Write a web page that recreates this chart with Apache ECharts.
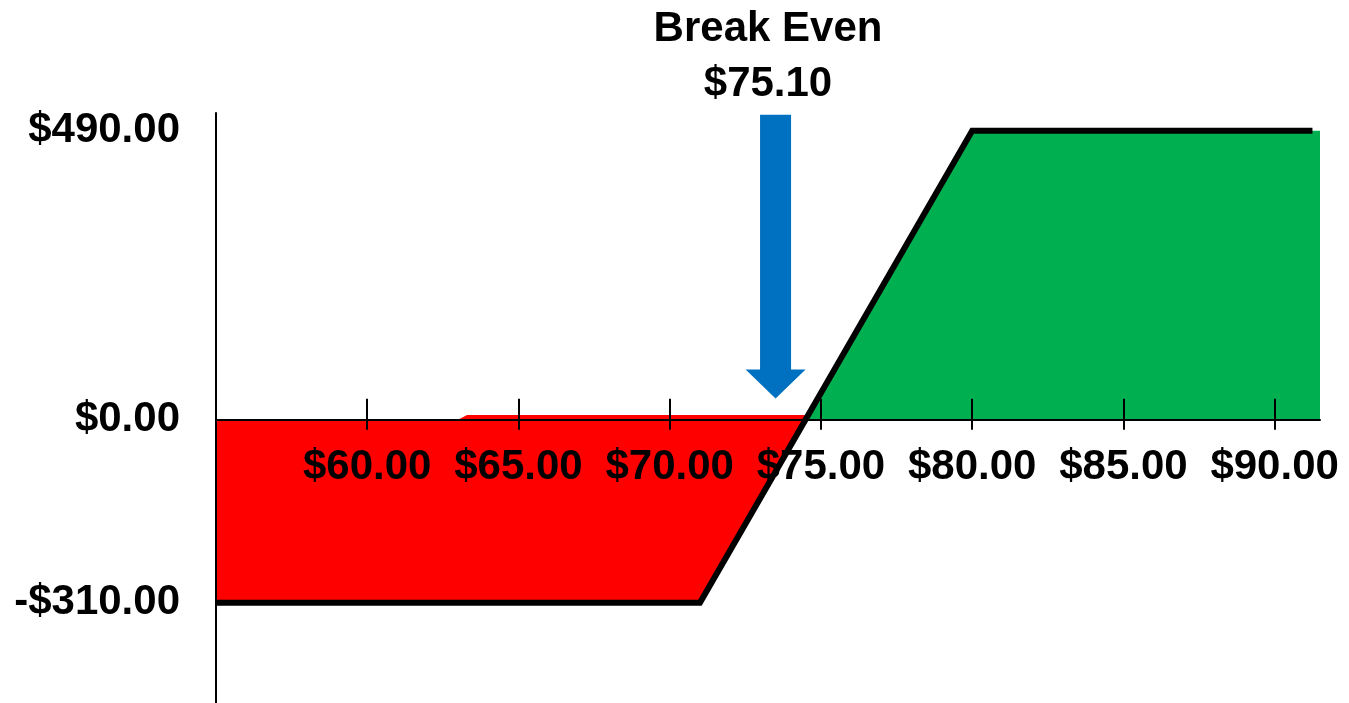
<!DOCTYPE html>
<html>
<head>
<meta charset="utf-8">
<script src="https://cdn.jsdelivr.net/npm/echarts@6/dist/echarts.min.js"></script>
<style>
  html, body { margin: 0; padding: 0; background: #fff; }
  #chart { width: 1349px; height: 703px; }
</style>
</head>
<body>
<div id="chart"></div>
<script>
// payoff at expiry (stock price -> profit/loss)
const payoffX = [55, 71, 80, 91.25];
const payoffY = [-310, -310, 490, 490];

// loss region (below zero) and the thin red band just above zero
const lossX = [55, 71, 74.49];
const lossY = [-310, -310, 0];
const sliverX = [63.0, 63.3, 74.5];
const sliverY = [0, 8, 8];

// profit region
const gainX = [74.49, 80, 91.5];
const gainY = [0, 490, 490];

// tick labels
const xTicks = [60, 65, 70, 75, 80, 85, 90];
const yLabels = [490, 0, -310];

// break-even arrow: x, top, tip
const arrowX = 73.5;
const arrowTop = 517;
const arrowTip = 36;
const breakEven = '$75.10';

const FONT = '"Liberation Sans", Arial, sans-serif';
const zip = (xs, ys) => xs.map((x, i) => [x, ys[i]]);
const money = (v) => (v < 0 ? '-$' : '$') + Math.abs(v).toFixed(2);

const Y_MIN = -480;
const Y_MAX = 520;
const GRID_TOP = 113;
const GRID_H = 590;
// x axis sits on y = 0, measured up from the bottom of the grid
const ZERO_OFFSET = -(GRID_H * (0 - Y_MIN)) / (Y_MAX - Y_MIN);

const chart = echarts.init(document.getElementById('chart'));

const option = {
  animation: false,
  title: {
    text: 'Break Even\n' + breakEven,
    left: 768,
    top: 2,
    padding: 0,
    textAlign: 'center',
    textStyle: {
      fontFamily: FONT,
      fontSize: 42,
      fontWeight: 'bold',
      lineHeight: 55,
      color: '#000',
    },
  },
  grid: {
    left: 216,
    right: 29,
    top: GRID_TOP,
    height: GRID_H,
    containLabel: false,
    outerBoundsMode: 'none',
  },
  xAxis: [
    {
      type: 'value',
      position: 'bottom',
      offset: ZERO_OFFSET,
      min: 55,
      max: 91.5,
      interval: 5,
      z: 10,
      axisLine: { onZero: false, lineStyle: { color: '#000', width: 2 } },
      axisTick: {
        inside: true,
        length: 21,
        customValues: xTicks,
        lineStyle: { color: '#000', width: 2 },
      },
      splitLine: { show: false },
      axisLabel: {
        customValues: xTicks,
        margin: 27,
        fontFamily: FONT,
        fontSize: 42,
        fontWeight: 'bold',
        color: '#000',
        formatter: (v) => money(v),
      },
    },
    {
      type: 'value',
      position: 'bottom',
      offset: ZERO_OFFSET,
      min: 55,
      max: 91.5,
      interval: 5,
      z: 10,
      axisLine: { show: false, onZero: false },
      axisTick: {
        length: 10,
        customValues: xTicks,
        lineStyle: { color: '#000', width: 2 },
      },
      splitLine: { show: false },
      axisLabel: { show: false },
    },
  ],
  yAxis: {
    type: 'value',
    min: Y_MIN,
    max: Y_MAX,
    z: 10,
    axisLine: { show: true, onZero: false, lineStyle: { color: '#000', width: 2 } },
    axisTick: { show: false },
    splitLine: { show: false },
    axisLabel: {
      customValues: yLabels,
      margin: 36,
      fontFamily: FONT,
      fontSize: 42,
      fontWeight: 'bold',
      color: '#000',
      formatter: (v) => money(v),
    },
  },
  series: [
    {
      type: 'line',
      data: zip(lossX, lossY),
      showSymbol: false,
      lineStyle: { width: 0 },
      areaStyle: { color: '#FF0000', opacity: 1 },
      z: 1,
    },
    {
      type: 'line',
      data: zip(sliverX, sliverY),
      showSymbol: false,
      lineStyle: { width: 0 },
      areaStyle: { color: '#FF0000', opacity: 1 },
      z: 1,
    },
    {
      type: 'line',
      data: zip(gainX, gainY),
      showSymbol: false,
      lineStyle: { width: 0 },
      areaStyle: { color: '#00B050', opacity: 1 },
      z: 1,
    },
    {
      type: 'line',
      data: zip(payoffX, payoffY),
      showSymbol: false,
      lineStyle: { color: '#000', width: 6, cap: 'butt', join: 'miter' },
      z: 20,
    },
    {
      type: 'custom',
      data: [[arrowX, arrowTop, arrowTip]],
      z: 15,
      renderItem: (params, api) => {
        const top = api.coord([api.value(0), api.value(1)]);
        const tip = api.coord([api.value(0), api.value(2)]);
        const cx = top[0];
        const shaft = 15.5;
        const head = 30;
        const headH = 29;
        const neck = tip[1] - headH;
        return {
          type: 'polygon',
          shape: {
            points: [
              [cx - shaft, top[1]],
              [cx + shaft, top[1]],
              [cx + shaft, neck],
              [cx + head, neck],
              [cx, tip[1]],
              [cx - head, neck],
              [cx - shaft, neck],
            ],
          },
          style: { fill: '#0070C0' },
        };
      },
    },
  ],
};

chart.setOption(option);
</script>
</body>
</html>
